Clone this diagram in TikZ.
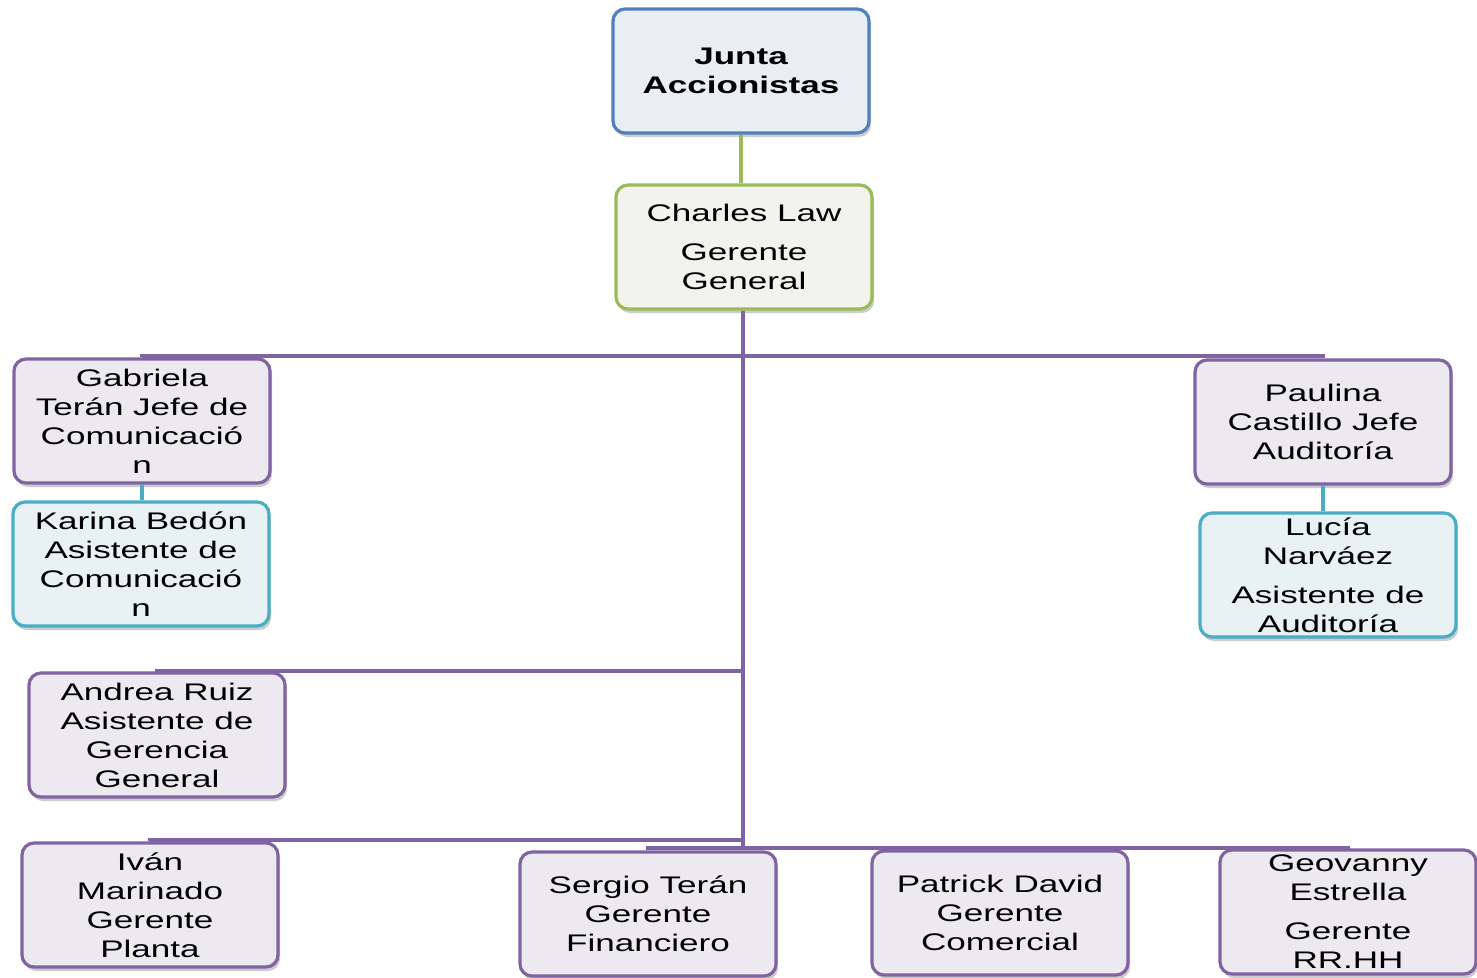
\documentclass[tikz,border=0pt]{standalone}
\usepackage{fontspec}
\setmainfont{Liberation Sans}[FakeStretch=1.46]
\usetikzlibrary{shadows}

\definecolor{lineblue}{HTML}{4F81BD}
\definecolor{linegreen}{HTML}{9BBB59}
\definecolor{linepurple}{HTML}{8064A2}
\definecolor{linecyan}{HTML}{4BACC6}
\definecolor{fillblue}{HTML}{E9EDF4}
\definecolor{fillgreen}{HTML}{F1F3EC}
\definecolor{fillpurple}{HTML}{ECE9F0}
\definecolor{fillcyan}{HTML}{E8F1F4}

\tikzset{
  orgbox/.style={draw, line width=3.2pt, rounded corners=12pt,
    minimum width=256pt, minimum height=124pt, align=center,
    inner sep=2pt, font=\fontsize{24}{29}\selectfont,
    drop shadow={shadow xshift=2pt, shadow yshift=-4pt, opacity=0.4}},
  topbox/.style={orgbox, draw=lineblue, fill=fillblue, font=\fontsize{24}{29}\selectfont\bfseries},
  gmbox/.style={orgbox, draw=linegreen, fill=fillgreen},
  headbox/.style={orgbox, draw=linepurple, fill=fillpurple},
  asstbox/.style={orgbox, draw=linecyan, fill=fillcyan},
  link/.style={line width=3.5pt, draw=linepurple},
}

\begin{document}
\begin{tikzpicture}[x=1pt, y=-1pt]
\useasboundingbox[fill=white] (0,0) rectangle (1477,977);

% boxes
\node[topbox] (junta) at (741,71) {Junta\\Accionistas};
\node[gmbox] (charles) at (744,247) {Charles Law\\[10pt]Gerente\\General};

\node[headbox] (gabriela) at (142,421) {Gabriela\\Terán Jefe de\\Comunicació\\n};
\node[asstbox] (karina) at (141,564) {Karina Bedón\\Asistente de\\Comunicació\\n};

\node[headbox] (paulina) at (1323,422) {Paulina\\Castillo Jefe\\Auditoría};
\node[asstbox] (lucia) at (1328,575) {Lucía\\Narváez\\[10pt]Asistente de\\Auditoría};

\node[headbox] (andrea) at (157,735) {Andrea Ruiz\\Asistente de\\Gerencia\\General};
\node[headbox] (ivan) at (150,905) {Iván\\Marinado\\Gerente\\Planta};

\node[headbox] (sergio) at (648,914) {Sergio Terán\\Gerente\\Financiero};
\node[headbox] (patrick) at (1000,913) {Patrick David\\Gerente\\Comercial};
\node[headbox] (geovanny) at (1348,912) {Geovanny\\Estrella\\[10pt]Gerente\\RR.HH};

% junctions on the trunk
\coordinate (hubA) at (743,356);
\coordinate (hubB) at (743,671);
\coordinate (hubC) at (743,840);
\coordinate (hubD) at (743,848);

% connectors
\draw[line width=3.5pt, draw=linegreen] (junta.south) -- (junta.south |- charles.north);
\draw[link] (charles.south -| hubD) -- (hubD);
\draw[link] (gabriela.north) |- (hubA) -| (paulina.north);
\draw[link] (andrea.north) |- (hubB);
\draw[link] (ivan.north) |- (hubC);
\draw[link] (sergio.north) |- (hubD) -| (geovanny.north);
\draw[link] (patrick.north) -- (patrick.north |- hubD);
\draw[line width=3.5pt, draw=linecyan] (gabriela.south) -- (gabriela.south |- karina.north);
\draw[line width=3.5pt, draw=linecyan] (paulina.south) -- (paulina.south |- lucia.north);
\end{tikzpicture}
\end{document}
